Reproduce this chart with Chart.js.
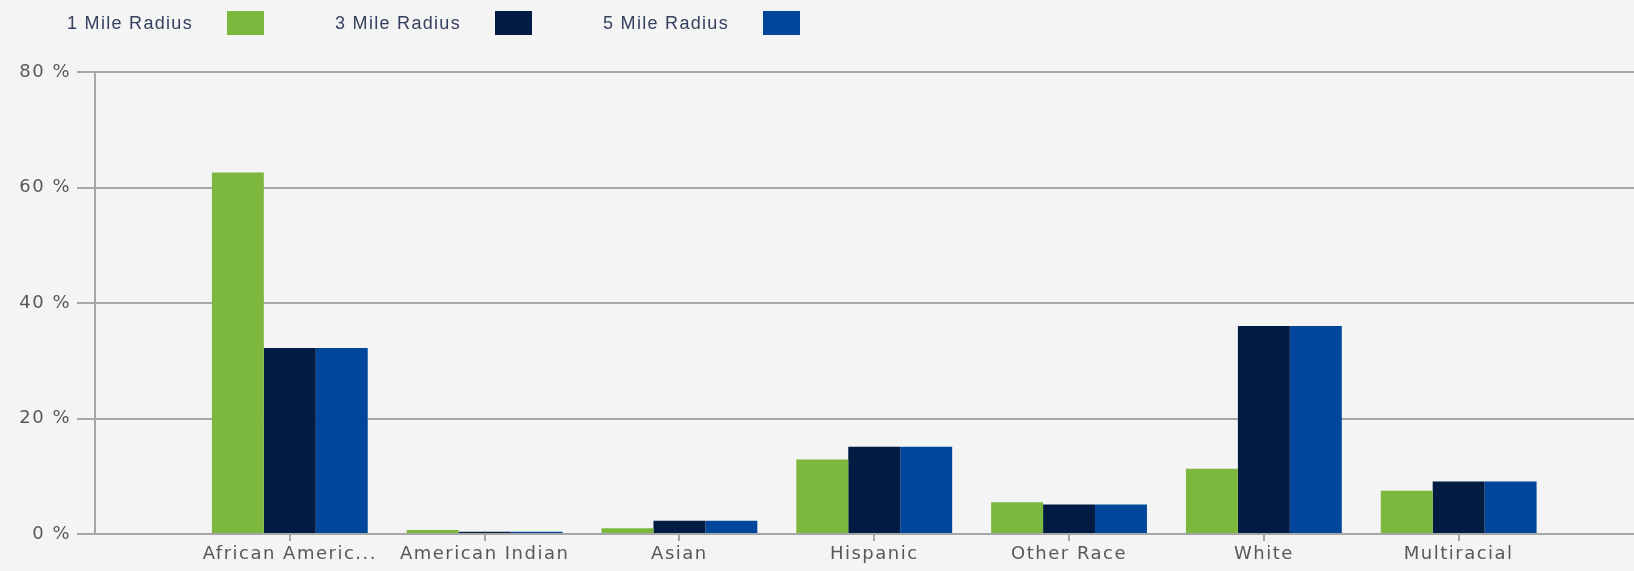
<!DOCTYPE html>
<html lang="en">
<head>
<meta charset="UTF-8">
<title>Population by Race</title>
<script src="https://cdn.jsdelivr.net/npm/chart.js"></script>
<style>
    body { margin: 0; background: #f4f4f4; }
    .wrap { position: relative; width: 1634px; height: 571px; }
    /* legend sits over the top of the canvas */
    #legend {
        position: absolute; left: 67px; top: 11px;
        display: flex; align-items: center;
        font-family: "Liberation Sans", sans-serif;
        font-size: 18px; letter-spacing: 1.3px; color: #34405e;
    }
    #legend .item { display: flex; align-items: center; width: 268px; }
    #legend .txt { display: inline-block; width: 160px; white-space: nowrap; }
    #legend .box { width: 37px; height: 24px; }
</style>
</head>
<body>
<div class="wrap">
    <div id="legend"></div>
    <canvas id="raceChart"></canvas>
</div>

<script>
    // categories and values (percent)
    const categories = ['African American', 'American Indian', 'Asian', 'Hispanic', 'Other Race', 'White', 'Multiracial'];
    const oneMile = [62.6, 0.7, 1.0, 12.9, 5.5, 11.3, 7.5];
    const threeMile = [32.2, 0.4, 2.3, 15.1, 5.1, 36.0, 9.1];
    const fiveMile = [32.2, 0.4, 2.3, 15.1, 5.1, 36.0, 9.1];
    const seriesNames = ['1 Mile Radius', '3 Mile Radius', '5 Mile Radius'];
    const yTicks = [0, 20, 40, 60, 80];

    const colors = ['#7db83e', '#021b42', '#00479b'];
    const gridColor = '#a6a6a6';

    function toPoints(vals) {
        return vals.map((v, i) => ({ x: i, y: v }));
    }

    function shortLabel(s) {
        return s.length > 15 ? s.slice(0, 14) + '...' : s;
    }

    // canvas text in the original is tracked out a little
    const spacing = {
        id: 'spacing',
        beforeUpdate(c) { c.ctx.letterSpacing = '1.5px'; },
        beforeDraw(c) { c.ctx.letterSpacing = '1.5px'; }
    };

    Chart.defaults.font.family = '"DejaVu Sans", sans-serif';
    Chart.defaults.color = '#585858';

    const ctx = document.getElementById('raceChart').getContext('2d');
    const chart = new Chart(ctx, {
        type: 'bar',
        data: {
            datasets: [
                { label: seriesNames[0], data: toPoints(oneMile), backgroundColor: colors[0] },
                { label: seriesNames[1], data: toPoints(threeMile), backgroundColor: colors[1] },
                { label: seriesNames[2], data: toPoints(fiveMile), backgroundColor: colors[2] }
            ]
        },
        options: {
            responsive: true,
            maintainAspectRatio: false,
            animation: false,
            categoryPercentage: 0.8,
            barPercentage: 1.0,
            layout: { padding: { top: 72, left: 0, right: 0, bottom: 0 } },
            plugins: {
                legend: { display: false },
                tooltip: { enabled: false }
            },
            scales: {
                x: {
                    type: 'linear',
                    min: -1,
                    max: 6.9,
                    offset: false,
                    grid: {
                        offset: false,
                        drawOnChartArea: false,
                        drawTicks: true,
                        tickLength: 7,
                        color: gridColor,
                        lineWidth: 2
                    },
                    border: { display: true, color: gridColor, width: 2 },
                    afterBuildTicks: s => { s.ticks = categories.map((c, i) => ({ value: i })); },
                    afterFit: s => { s.height = 37; },
                    ticks: {
                        font: { size: 18 },
                        padding: 3,
                        maxRotation: 0,
                        autoSkip: false,
                        callback: v => shortLabel(categories[v] || '')
                    }
                },
                y: {
                    min: 0,
                    max: 80,
                    afterBuildTicks: s => { s.ticks = yTicks.map(v => ({ value: v })); },
                    afterFit: s => { s.width = 95; },
                    grid: { color: gridColor, lineWidth: 2, tickLength: 18 },
                    border: { display: true, color: gridColor, width: 2 },
                    ticks: {
                        font: { size: 18 },
                        padding: 6,
                        callback: v => v + ' %'
                    }
                }
            }
        },
        plugins: [spacing]
    });

    // html legend: text first, then the colour box
    const legend = document.getElementById('legend');
    chart.data.datasets.forEach(ds => {
        const item = document.createElement('div');
        item.className = 'item';
        const txt = document.createElement('span');
        txt.className = 'txt';
        txt.textContent = ds.label;
        const box = document.createElement('span');
        box.className = 'box';
        box.style.background = ds.backgroundColor;
        item.appendChild(txt);
        item.appendChild(box);
        legend.appendChild(item);
    });
</script>
</body>
</html>
